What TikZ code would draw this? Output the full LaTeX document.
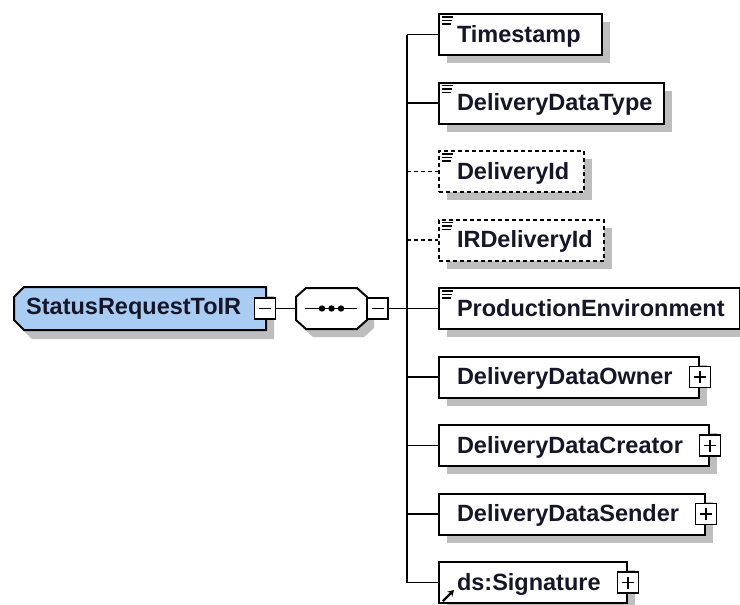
\documentclass[tikz,border=0pt]{standalone}
\usepackage{fontspec}
\setmainfont{Liberation Sans}
\usetikzlibrary{shadows,arrows.meta}
\definecolor{shadowgray}{RGB}{190,190,190}
\definecolor{rootblue}{RGB}{168,204,242}
\definecolor{inkcol}{RGB}{22,22,40}
\newcommand\elfont{\fontsize{23.5}{28}\selectfont\bfseries}
\newcommand\simpleicon[1]{%
  \draw[line width=1.6pt] (#1.north west) ++(4,4) -- ++(11,0)
        (#1.north west) ++(4,7.5) -- ++(10,0)
        (#1.north west) ++(4,11) -- ++(9,0);}
\begin{document}
\begin{tikzpicture}[x=1pt,y=-1pt,
  shad/.style={drop shadow={shadow xshift=8pt,shadow yshift=-8pt,fill=shadowgray,opacity=1}},
  elem/.style={draw, line width=2pt, fill=white, shad, minimum height=41pt, inner sep=0pt,
     anchor=west, align=left, font=\elfont, text=inkcol, text height=19pt, text depth=4pt},
  optelem/.style={elem, dash pattern=on 4pt off 3pt},
  conn/.style={line width=1.8pt},
  optconn/.style={conn, dash pattern=on 4pt off 3pt},
  sbox/.style={draw, fill=white, line width=1.8pt, minimum size=21pt, inner sep=0pt},
  mbox/.style={sbox, path picture={\draw[line width=1.6pt] ([xshift=-6pt]path picture bounding box.center) -- ([xshift=6pt]path picture bounding box.center);}},
  pbox/.style={sbox, path picture={\draw[line width=1.6pt] ([xshift=-6pt]path picture bounding box.center) -- ([xshift=6pt]path picture bounding box.center) ([yshift=-6pt]path picture bounding box.center) -- ([yshift=6pt]path picture bounding box.center);}},
]
\useasboundingbox (0,0) rectangle (740,605);

% root element
\begin{scope}[shift={(8,9)}]
  \fill[shadowgray] (14,297) -- (24,287) -- (266,287) -- (266,330) -- (24,330) -- (14,320) -- cycle;
\end{scope}
\draw[line width=2pt, fill=rootblue] (14,297) -- (24,287) -- (266,287) -- (266,330) -- (24,330) -- (14,320) -- cycle;
\node[anchor=west, font=\elfont, text=inkcol, inner sep=0pt] (root) at (26,308.5) {StatusRequestToIR};
\node[mbox] (rootm) at (265,308.5) {};

% sequence compositor
\begin{scope}[shift={(7,8)}]
  \fill[shadowgray] (306,288) -- (357,288) -- (367,297) -- (367,320) -- (357,329) -- (306,329) -- (296,320) -- (296,297) -- cycle;
\end{scope}
\draw[line width=2pt, fill=white] (306,288) -- (357,288) -- (367,297) -- (367,320) -- (357,329) -- (306,329) -- (296,320) -- (296,297) -- cycle;
\node[inner sep=0pt, minimum width=71pt, minimum height=41pt] (seq) at (331.5,308.5) {};
\draw[line width=1.6pt] (305,308.5) -- (357,308.5);
\fill (322,308.5) circle (3.2) (331.5,308.5) circle (3.2) (341,308.5) circle (3.2);
\node[mbox] (seqm) at (377.5,308.5) {};
\coordinate (trunk) at (407,0);

% children
\node[elem, text width=163pt] (ts) at (438,34.5) {\hspace*{18pt}Timestamp};
\node[elem, text width=225pt] (ddt) at (438,103) {\hspace*{18pt}DeliveryDataType};
\node[optelem, text width=145pt] (did) at (438,171.5) {\hspace*{18pt}DeliveryId};
\node[optelem, text width=165pt] (ird) at (438,240) {\hspace*{18pt}IRDeliveryId};
\node[elem, text width=301pt] (pe) at (438,308.5) {\hspace*{18pt}ProductionEnvironment};
\node[elem, text width=260pt] (ddo) at (438,377) {\hspace*{18pt}DeliveryDataOwner};
\node[elem, text width=270pt] (ddc) at (438,445.5) {\hspace*{18pt}DeliveryDataCreator};
\node[elem, text width=266pt] (dds) at (438,514) {\hspace*{18pt}DeliveryDataSender};
\node[elem, text width=188pt] (sig) at (438,582.5) {\hspace*{18pt}ds:Signature};

\simpleicon{ts}
\simpleicon{ddt}
\simpleicon{did}
\simpleicon{ird}
\simpleicon{pe}

\node[pbox] (ddop) at (ddo.east) {};
\node[pbox] (ddcp) at (ddc.east) {};
\node[pbox] (ddsp) at (dds.east) {};
\node[pbox] (sigp) at (sig.east) {};

\draw[line width=2.2pt, -{Stealth[length=6pt,width=7pt]}] (sig.south west) ++(5,-3) -- ++(11,-11);

% connectors
\draw[conn] (rootm) -- (seq);
\draw[conn] (seqm) -- (seqm -| trunk);
\draw[conn] (ts.west -| trunk) -- (sig.west -| trunk);
\draw[conn] (ts.west -| trunk) -- (ts.west);
\draw[conn] (ddt.west -| trunk) -- (ddt.west);
\draw[optconn] (did.west -| trunk) -- (did.west);
\draw[optconn] (ird.west -| trunk) -- (ird.west);
\draw[conn] (pe.west -| trunk) -- (pe.west);
\draw[conn] (ddo.west -| trunk) -- (ddo.west);
\draw[conn] (ddc.west -| trunk) -- (ddc.west);
\draw[conn] (dds.west -| trunk) -- (dds.west);
\draw[conn] (sig.west -| trunk) -- (sig.west);
\end{tikzpicture}
\end{document}
